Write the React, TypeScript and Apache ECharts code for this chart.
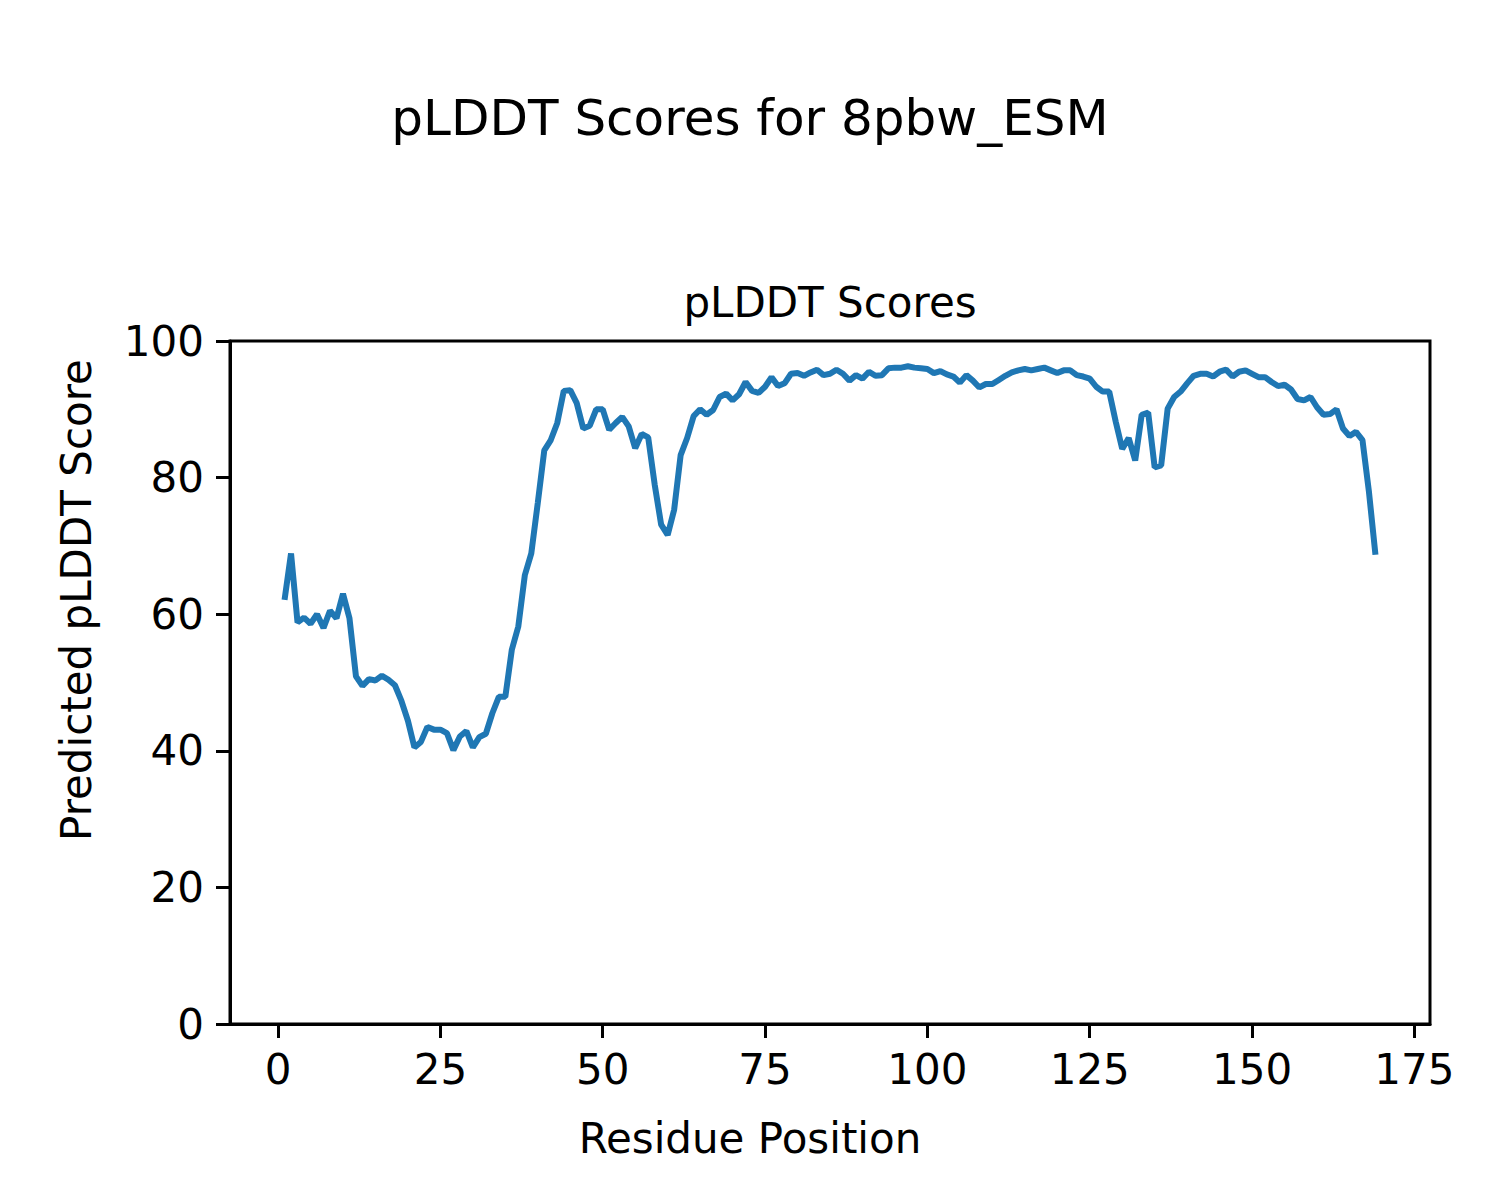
import React, { useEffect, useRef } from "react";
import * as echarts from "echarts";

const positions: number[] = Array.from({ length: 169 }, (_, i) => i + 1);
const plddt: number[] = [
  62.1, 68.9, 58.8, 59.5, 58.6, 60.0, 58.0, 60.5, 59.4, 63.0,
  59.4, 50.9, 49.5, 50.5, 50.3, 51.0, 50.4, 49.6, 47.3, 44.4,
  40.5, 41.3, 43.5, 43.1, 43.1, 42.6, 40.1, 42.1, 42.9, 40.5,
  42.0, 42.5, 45.5, 47.9, 47.9, 54.8, 58.2, 65.7, 68.9, 76.3,
  84.0, 85.5, 88.0, 92.7, 92.8, 90.9, 87.2, 87.6, 90.0, 90.0,
  87.0, 88.0, 88.9, 87.5, 84.3, 86.4, 85.9, 79.0, 73.1, 71.6,
  75.3, 83.3, 85.8, 89.0, 90.0, 89.2, 89.9, 91.8, 92.3, 91.3,
  92.2, 94.0, 92.7, 92.4, 93.3, 94.7, 93.4, 93.8, 95.2, 95.3,
  94.9, 95.4, 95.8, 95.0, 95.2, 95.8, 95.2, 94.2, 95.0, 94.5,
  95.5, 94.9, 95.0, 96.0, 96.1, 96.1, 96.3, 96.1, 96.0, 95.9,
  95.3, 95.6, 95.1, 94.8, 93.9, 95.0, 94.2, 93.2, 93.7, 93.7,
  94.3, 94.9, 95.4, 95.7, 95.9, 95.7, 95.9, 96.1, 95.7, 95.3,
  95.7, 95.7, 95.0, 94.8, 94.5, 93.3, 92.6, 92.6, 88.2, 84.2,
  85.8, 82.5, 89.2, 89.5, 81.5, 81.8, 90.1, 91.8, 92.6, 93.8,
  94.9, 95.2, 95.2, 94.8, 95.5, 95.8, 94.8, 95.5, 95.7, 95.2,
  94.7, 94.7, 94.0, 93.4, 93.6, 92.9, 91.5, 91.3, 91.8, 90.3,
  89.2, 89.3, 90.0, 87.2, 86.1, 86.7, 85.5, 77.9, 68.7,
];
const xTicks: number[] = [0, 25, 50, 75, 100, 125, 150, 175];

const suptitle = "pLDDT Scores for 8pbw_ESM";
const axesTitle = "pLDDT Scores";
const xLabel = "Residue Position";
const yLabel = "Predicted pLDDT Score";

const FONT = "DejaVu Sans";

export default function App() {
  const ref = useRef<HTMLDivElement>(null);
  useEffect(() => {
    if (!ref.current) return;
    const chart = echarts.init(ref.current, null, { renderer: "svg" });
    const data = positions.map((p, i) => [p, plddt[i]]);
    chart.setOption({
      animation: false,
      backgroundColor: "#ffffff",
      textStyle: { fontFamily: FONT },
      grid: {
        left: 230,
        top: 341,
        width: 1200,
        height: 683,
        show: true,
        borderColor: "#000000",
        borderWidth: 3,
        backgroundColor: "transparent",
      },
      xAxis: {
        type: "value",
        min: -7.4,
        max: 177.4,
        splitLine: { show: false },
        axisLine: { show: true, onZero: false, lineStyle: { color: "#000", width: 3 } },
        axisTick: {
          show: true,
          length: 14,
          customValues: xTicks,
          lineStyle: { color: "#000", width: 3 },
        },
        axisLabel: {
          customValues: xTicks,
          color: "#000",
          fontSize: 42,
          fontFamily: FONT,
          margin: 24,
        },
      },
      yAxis: {
        type: "value",
        min: 0,
        max: 100,
        interval: 20,
        splitLine: { show: false },
        axisLine: { show: true, onZero: false, lineStyle: { color: "#000", width: 3 } },
        axisTick: { show: true, length: 14, lineStyle: { color: "#000", width: 3 } },
        axisLabel: { color: "#000", fontSize: 42, fontFamily: FONT, margin: 26 },
      },
      series: [
        {
          type: "line",
          data,
          showSymbol: false,
          symbol: "none",
          lineStyle: { color: "#1f77b4", width: 6 },
          clip: true,
        },
      ],
      graphic: [
        {
          type: "text",
          x: 750,
          y: 118,
          style: {
            text: suptitle,
            fontSize: 50,
            fontFamily: FONT,
            fill: "#000",
            textAlign: "center",
            textVerticalAlign: "middle",
          },
        },
        {
          type: "text",
          x: 830,
          y: 302,
          style: {
            text: axesTitle,
            fontSize: 42,
            fontFamily: FONT,
            fill: "#000",
            textAlign: "center",
            textVerticalAlign: "middle",
          },
        },
        {
          type: "text",
          x: 750,
          y: 1138,
          style: {
            text: xLabel,
            fontSize: 42,
            fontFamily: FONT,
            fill: "#000",
            textAlign: "center",
            textVerticalAlign: "middle",
          },
        },
        {
          type: "text",
          x: 76,
          y: 600,
          rotation: Math.PI / 2,
          style: {
            text: yLabel,
            fontSize: 42,
            fontFamily: FONT,
            fill: "#000",
            textAlign: "center",
            textVerticalAlign: "middle",
          },
        },
      ],
    });
    return () => chart.dispose();
  }, []);
  return (
    <div
      ref={ref}
      style={{ position: "absolute", left: 0, top: 0, width: 1500, height: 1200 }}
    />
  );
}
